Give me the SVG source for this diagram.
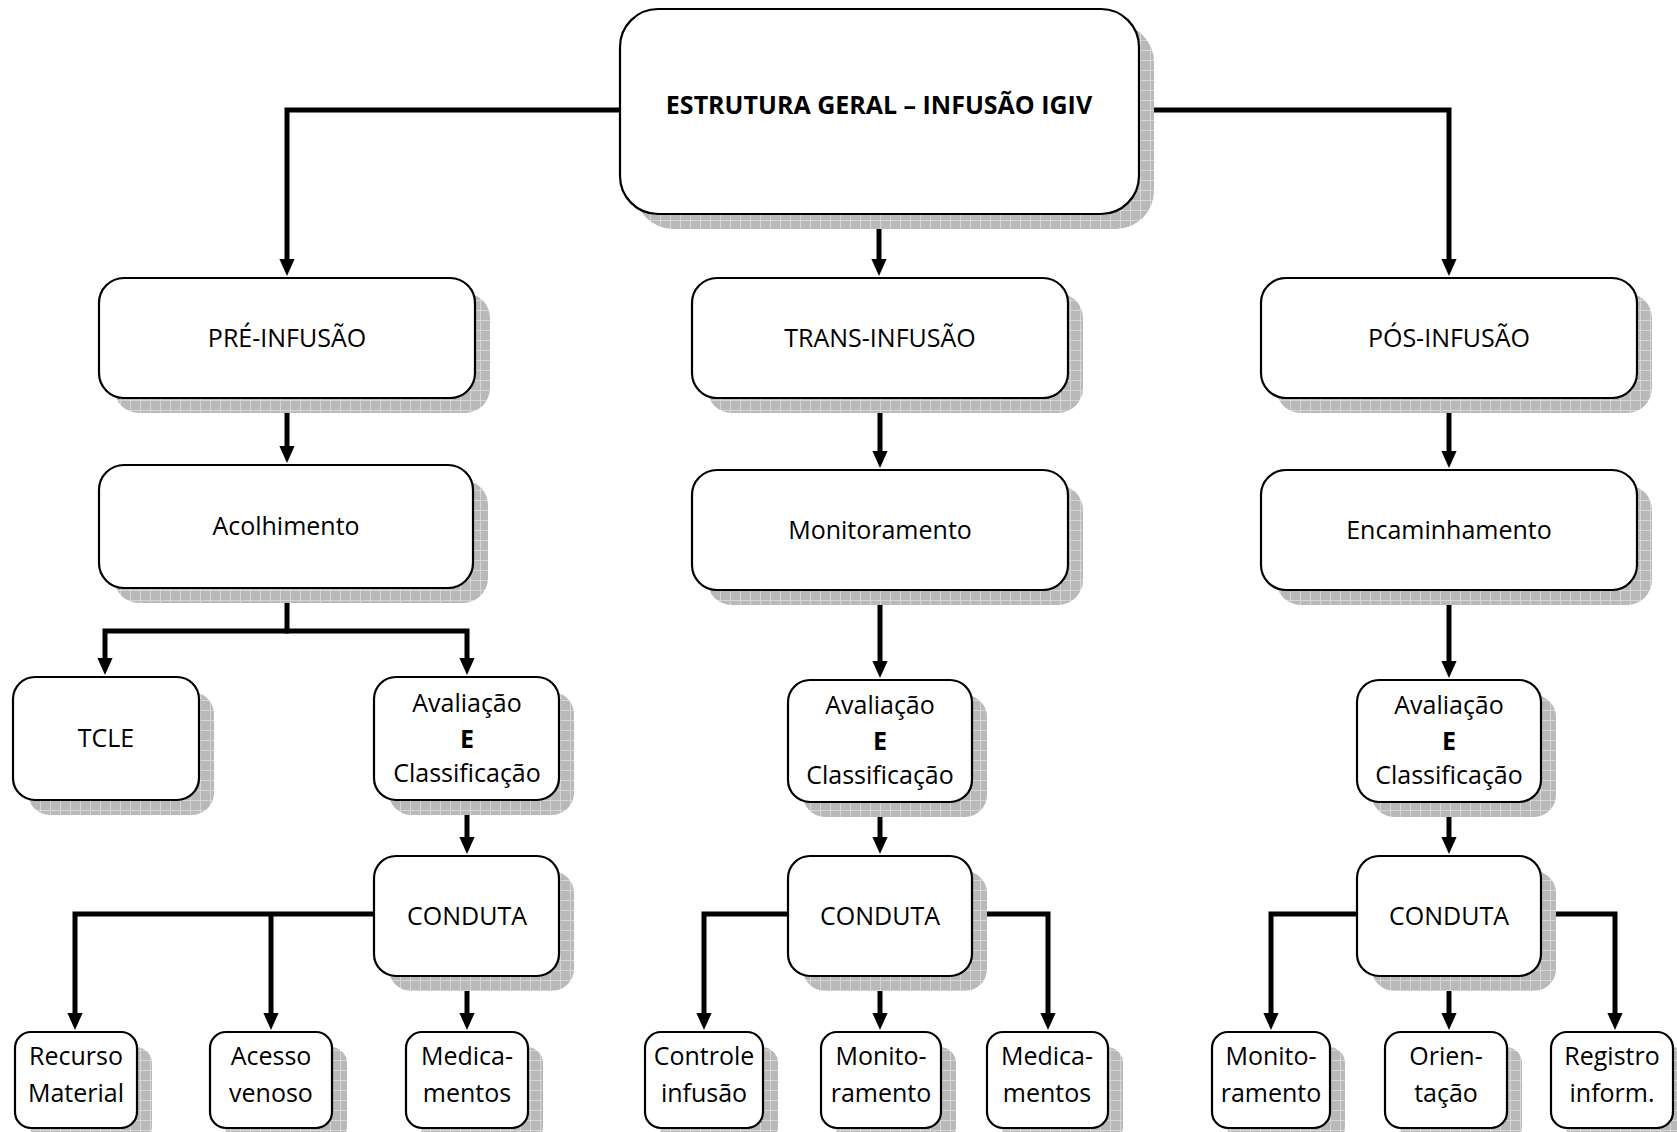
<svg xmlns="http://www.w3.org/2000/svg" width="1677" height="1132" viewBox="0 0 1677 1132">
  <defs>
    <pattern id="grid" width="10" height="10" patternUnits="userSpaceOnUse">
      <rect width="10" height="10" fill="#b9b9b9"/>
      <path d="M0,0.5H10M0.5,0V10" stroke="#d6d6d6" stroke-width="1"/>
    </pattern>
    <marker id="arr" markerUnits="userSpaceOnUse" markerWidth="17" markerHeight="20" viewBox="0 0 19 17" refX="0" refY="8.5" orient="auto">
      <path d="M0,0 L19,8.5 L0,17 z" fill="#000"/>
    </marker>
    <style>
      .box { fill: #fff; stroke: #000; stroke-width: 2.2; }
      .shadow { fill: url(#grid); }
      .lbl { font-family: "Open Sans", Lato, "Liberation Sans", sans-serif; font-size: 25px; fill: #000; text-anchor: middle; }
      .bold { font-weight: bold; }
      .conn { fill: none; stroke: #000; stroke-width: 5; stroke-linejoin: miter; }
      .conn.a { marker-end: url(#arr); }
    </style>
  </defs>
  <rect width="1677" height="1132" fill="#fff"/>

  <!-- connectors -->
  <g id="connectors">
    <path class="conn a" d="M620,110 H287 V259"/>
    <path class="conn a" d="M1139,110 H1449 V259"/>
    <path class="conn a" d="M879,214 V259"/>

    <path class="conn a" d="M287,398 V446"/>
    <path class="conn a" d="M880,398 V451"/>
    <path class="conn a" d="M1449,398 V451"/>

    <path class="conn" d="M287,588 V631"/>
    <path class="conn a" d="M289,631 H105 V658"/>
    <path class="conn a" d="M285,631 H467 V658"/>
    <path class="conn a" d="M880,590 V661"/>
    <path class="conn a" d="M1449,590 V661"/>

    <path class="conn a" d="M467,800 V837"/>
    <path class="conn a" d="M880,802 V837"/>
    <path class="conn a" d="M1449,802 V837"/>

    <path class="conn a" d="M374,914 H75 V1013"/>
    <path class="conn a" d="M271,914 V1013"/>
    <path class="conn a" d="M467,976 V1013"/>

    <path class="conn a" d="M787,914 H704 V1013"/>
    <path class="conn a" d="M973,914 H1048 V1013"/>
    <path class="conn a" d="M880,976 V1013"/>

    <path class="conn a" d="M1357,914 H1271 V1013"/>
    <path class="conn a" d="M1541,914 H1615 V1013"/>
    <path class="conn a" d="M1449,976 V1013"/>
  </g>

  <!-- root -->
  <g id="root">
    <rect class="shadow" x="635" y="24" width="519" height="205" rx="38"/>
    <rect class="box" x="620" y="9" width="519" height="205" rx="38"/>
    <text class="lbl bold" x="879" y="114">ESTRUTURA GERAL – INFUSÃO IGIV</text>
  </g>

  <!-- phases -->
  <g id="pre">
    <rect class="shadow" x="114" y="293" width="376" height="120" rx="25"/>
    <rect class="box" x="99" y="278" width="376" height="120" rx="25"/>
    <text class="lbl" x="287" y="347">PRÉ-INFUSÃO</text>
  </g>
  <g id="trans">
    <rect class="shadow" x="707" y="293" width="376" height="120" rx="25"/>
    <rect class="box" x="692" y="278" width="376" height="120" rx="25"/>
    <text class="lbl" x="880" y="347">TRANS-INFUSÃO</text>
  </g>
  <g id="pos">
    <rect class="shadow" x="1276" y="293" width="376" height="120" rx="25"/>
    <rect class="box" x="1261" y="278" width="376" height="120" rx="25"/>
    <text class="lbl" x="1449" y="347">PÓS-INFUSÃO</text>
  </g>

  <!-- second level -->
  <g id="acolhimento">
    <rect class="shadow" x="114" y="480" width="374" height="123" rx="25"/>
    <rect class="box" x="99" y="465" width="374" height="123" rx="25"/>
    <text class="lbl" x="286" y="535">Acolhimento</text>
  </g>
  <g id="monitoramento">
    <rect class="shadow" x="707" y="485" width="376" height="120" rx="25"/>
    <rect class="box" x="692" y="470" width="376" height="120" rx="25"/>
    <text class="lbl" x="880" y="539">Monitoramento</text>
  </g>
  <g id="encaminhamento">
    <rect class="shadow" x="1276" y="485" width="376" height="120" rx="25"/>
    <rect class="box" x="1261" y="470" width="376" height="120" rx="25"/>
    <text class="lbl" x="1449" y="539">Encaminhamento</text>
  </g>

  <!-- third level -->
  <g id="tcle">
    <rect class="shadow" x="28" y="692" width="186" height="123" rx="22"/>
    <rect class="box" x="13" y="677" width="186" height="123" rx="22"/>
    <text class="lbl" x="106" y="747">TCLE</text>
  </g>
  <g id="avaliacao-pre">
    <rect class="shadow" x="389" y="692" width="185" height="123" rx="22"/>
    <rect class="box" x="374" y="677" width="185" height="123" rx="22"/>
    <text class="lbl" x="467" y="712">Avaliação</text>
    <text class="lbl bold" x="467" y="748">E</text>
    <text class="lbl" x="467" y="782">Classificação</text>
  </g>
  <g id="avaliacao-trans">
    <rect class="shadow" x="803" y="695" width="184" height="122" rx="22"/>
    <rect class="box" x="788" y="680" width="184" height="122" rx="22"/>
    <text class="lbl" x="880" y="714">Avaliação</text>
    <text class="lbl bold" x="880" y="750">E</text>
    <text class="lbl" x="880" y="784">Classificação</text>
  </g>
  <g id="avaliacao-pos">
    <rect class="shadow" x="1372" y="695" width="184" height="122" rx="22"/>
    <rect class="box" x="1357" y="680" width="184" height="122" rx="22"/>
    <text class="lbl" x="1449" y="714">Avaliação</text>
    <text class="lbl bold" x="1449" y="750">E</text>
    <text class="lbl" x="1449" y="784">Classificação</text>
  </g>

  <!-- conduct -->
  <g id="conduta-pre">
    <rect class="shadow" x="389" y="871" width="185" height="120" rx="22"/>
    <rect class="box" x="374" y="856" width="185" height="120" rx="22"/>
    <text class="lbl" x="467" y="925">CONDUTA</text>
  </g>
  <g id="conduta-trans">
    <rect class="shadow" x="803" y="871" width="184" height="120" rx="22"/>
    <rect class="box" x="788" y="856" width="184" height="120" rx="22"/>
    <text class="lbl" x="880" y="925">CONDUTA</text>
  </g>
  <g id="conduta-pos">
    <rect class="shadow" x="1372" y="871" width="184" height="120" rx="22"/>
    <rect class="box" x="1357" y="856" width="184" height="120" rx="22"/>
    <text class="lbl" x="1449" y="925">CONDUTA</text>
  </g>

  <!-- actions -->
  <g id="recurso">
    <rect class="shadow" x="30" y="1047" width="122" height="96" rx="16"/>
    <rect class="box" x="15" y="1032" width="122" height="96" rx="16"/>
    <text class="lbl" x="76" y="1065">Recurso</text>
    <text class="lbl" x="76" y="1102">Material</text>
  </g>
  <g id="acesso">
    <rect class="shadow" x="225" y="1047" width="122" height="96" rx="16"/>
    <rect class="box" x="210" y="1032" width="122" height="96" rx="16"/>
    <text class="lbl" x="271" y="1065">Acesso</text>
    <text class="lbl" x="271" y="1102">venoso</text>
  </g>
  <g id="medicamentos-pre">
    <rect class="shadow" x="421" y="1047" width="122" height="96" rx="16"/>
    <rect class="box" x="406" y="1032" width="122" height="96" rx="16"/>
    <text class="lbl" x="467" y="1065">Medica-</text>
    <text class="lbl" x="467" y="1102">mentos</text>
  </g>
  <g id="controle">
    <rect class="shadow" x="660" y="1047" width="118" height="96" rx="16"/>
    <rect class="box" x="645" y="1032" width="118" height="96" rx="16"/>
    <text class="lbl" x="704" y="1065">Controle</text>
    <text class="lbl" x="704" y="1102">infusão</text>
  </g>
  <g id="monitoramento-trans">
    <rect class="shadow" x="836" y="1047" width="120" height="96" rx="16"/>
    <rect class="box" x="821" y="1032" width="120" height="96" rx="16"/>
    <text class="lbl" x="881" y="1065">Monito-</text>
    <text class="lbl" x="881" y="1102">ramento</text>
  </g>
  <g id="medicamentos-trans">
    <rect class="shadow" x="1002" y="1047" width="121" height="96" rx="16"/>
    <rect class="box" x="987" y="1032" width="121" height="96" rx="16"/>
    <text class="lbl" x="1047" y="1065">Medica-</text>
    <text class="lbl" x="1047" y="1102">mentos</text>
  </g>
  <g id="monitoramento-pos">
    <rect class="shadow" x="1227" y="1047" width="118" height="96" rx="16"/>
    <rect class="box" x="1212" y="1032" width="118" height="96" rx="16"/>
    <text class="lbl" x="1271" y="1065">Monito-</text>
    <text class="lbl" x="1271" y="1102">ramento</text>
  </g>
  <g id="orientacao">
    <rect class="shadow" x="1400" y="1047" width="122" height="96" rx="16"/>
    <rect class="box" x="1385" y="1032" width="122" height="96" rx="16"/>
    <text class="lbl" x="1446" y="1065">Orien-</text>
    <text class="lbl" x="1446" y="1102">tação</text>
  </g>
  <g id="registro">
    <rect class="shadow" x="1566" y="1047" width="122" height="96" rx="16"/>
    <rect class="box" x="1551" y="1032" width="122" height="96" rx="16"/>
    <text class="lbl" x="1612" y="1065">Registro</text>
    <text class="lbl" x="1612" y="1102">inform.</text>
  </g>
</svg>
